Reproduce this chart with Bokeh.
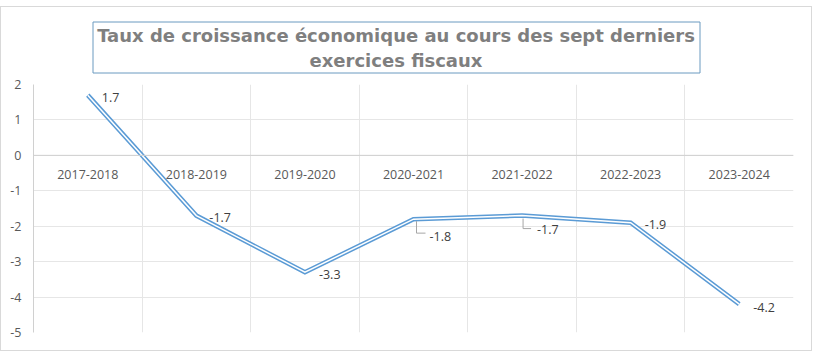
from bokeh.plotting import figure
from bokeh.layouts import column
from bokeh.models import (Range1d, FixedTicker, Grid, Span, ColumnDataSource)
from bokeh.core.properties import value
from bokeh.embed import file_html
from bokeh.resources import INLINE

# ---- data ----
categories = ["2017-2018", "2018-2019", "2019-2020", "2020-2021",
              "2021-2022", "2022-2023", "2023-2024"]
growth = [1.7, -1.7, -3.3, -1.8, -1.7, -1.9, -4.2]
y_ticks = [-5, -4, -3, -2, -1, 0, 1, 2]
y_tick_labels = ["-5", "-4", "-3", "-2", "-1", "0", "1", "2"]
title_text = "Taux de croissance économique au cours des sept derniers\nexercices fiscaux"

# label placement (screen px offsets from each point)
label_dx = [14, 13, 14, 16, 15, 14, 14]
label_dy = [2, 2, 2, 17, 14, 2, 3]

# whole chart sits inside a bordered box whose content starts at window (1, 7)
OX, OY = 1, 7
W = 811 - OX
TH = 77 - OY                 # height of the title strip
MH = 350 - 77                # height of the plotting figure
FL, FR, FT, FB = 33 - OX, 793 - OX, 84 - 77, 332 - 77  # frame edges in main canvas px

# ---------- title strip (frame aligned with the main plot's frame) ----------
t = figure(width=W, height=TH, output_backend="svg", toolbar_location=None,
           x_range=Range1d(FL, FR), y_range=Range1d(TH, 0),
           x_axis_type=None, y_axis_type=None,
           min_border_left=FL, min_border_right=W - FR,
           min_border_top=0, min_border_bottom=0)
t.outline_line_color = None
t.xgrid.visible = False
t.ygrid.visible = False
t.background_fill_color = "white"
t.border_fill_color = "white"
box_l, box_r, box_t, box_b = 92 - OX, 699 - OX, 21 - OY, 72 - OY
t.quad(left=[box_l + 0.5], right=[box_r + 0.5], top=[box_t + 0.5], bottom=[box_b + 0.5],
       fill_color=None, line_color="#6A9AC0", line_width=1)
t.text(x=[(box_l + box_r) / 2], y=[(box_t + box_b) / 2 + 1], text=[title_text],
       text_align="center", text_baseline="middle", text_font=value("DejaVu Sans"),
       text_font_style="bold", text_font_size="18px", text_color="#7F7F7F",
       text_line_height=1.2)

# ---------- main plot ----------
xs = [i + 0.5 for i in range(len(categories))]

p = figure(width=W, height=MH, output_backend="svg", toolbar_location=None,
           x_range=Range1d(0, len(categories)), y_range=Range1d(-5, 2),
           x_axis_type=None,
           min_border_left=FL, min_border_right=W - FR,
           min_border_top=FT, min_border_bottom=MH - FB)
p.outline_line_color = None
p.background_fill_color = "white"
p.border_fill_color = "white"

yax = p.yaxis[0]
yax.ticker = FixedTicker(ticks=y_ticks)
yax.major_label_overrides = {tk: s for tk, s in zip(y_ticks, y_tick_labels)}
yax.major_tick_in = 0
yax.major_tick_out = 0
yax.minor_tick_line_color = None
yax.axis_line_color = "#D0D0D0"
yax.major_label_standoff = 12
yax.major_label_text_font = "Open Sans"
yax.major_label_text_font_size = "12.5px"
yax.major_label_text_color = "#595959"

p.ygrid.ticker = FixedTicker(ticks=y_ticks)
p.ygrid.grid_line_color = "#E6E6E6"
p.add_layout(Grid(dimension=0, ticker=FixedTicker(ticks=list(range(len(categories) + 1))),
                  grid_line_color="#E6E6E6"))

p.add_layout(Span(location=0, dimension="width", line_color="#D0D0D0", line_width=1))

cat_src = ColumnDataSource(dict(x=xs, y=[0] * len(xs), t=categories))
p.text(x="x", y="y", text="t", source=cat_src, text_align="center",
       text_baseline="middle", y_offset=19, text_font=value("Open Sans"),
       text_font_size="12.5px", text_color="#595959")

# double line
p.line(xs, growth, line_color="#5B9BD5", line_width=4.5, line_join="miter")
p.line(xs, growth, line_color="white", line_width=1.5, line_join="miter")

# leader lines for the two shifted labels (px offsets converted to data units)
px_x = len(categories) / (FR - FL)
px_y = 7 / (FB - FT)
lx, ly = [], []
leaders = {3: (3, 2, 14, 12), 4: (1, 3, 13, 9)}
for i, (dx0, dy0, dy1, dx1) in leaders.items():
    x0 = xs[i] + dx0 * px_x
    lx.append([x0, x0, xs[i] + dx1 * px_x])
    ly.append([growth[i] - dy0 * px_y, growth[i] - dy1 * px_y, growth[i] - dy1 * px_y])
p.multi_line(lx, ly, line_color="#A6A6A6", line_width=1)

lab_src = ColumnDataSource(dict(x=xs, y=growth, t=[f"{v:.1f}" for v in growth],
                                dx=label_dx, dy=label_dy))
p.text(x="x", y="y", text="t", source=lab_src, x_offset="dx", y_offset="dy",
       text_align="left", text_baseline="middle", text_font=value("Open Sans"),
       text_font_size="12.5px", text_color="#404040")

layout = column(t, p, spacing=0,
                styles={"border": "1px solid #D9D9D9", "margin-top": "6px"})

open("out.html", "w").write(file_html(layout, INLINE))
